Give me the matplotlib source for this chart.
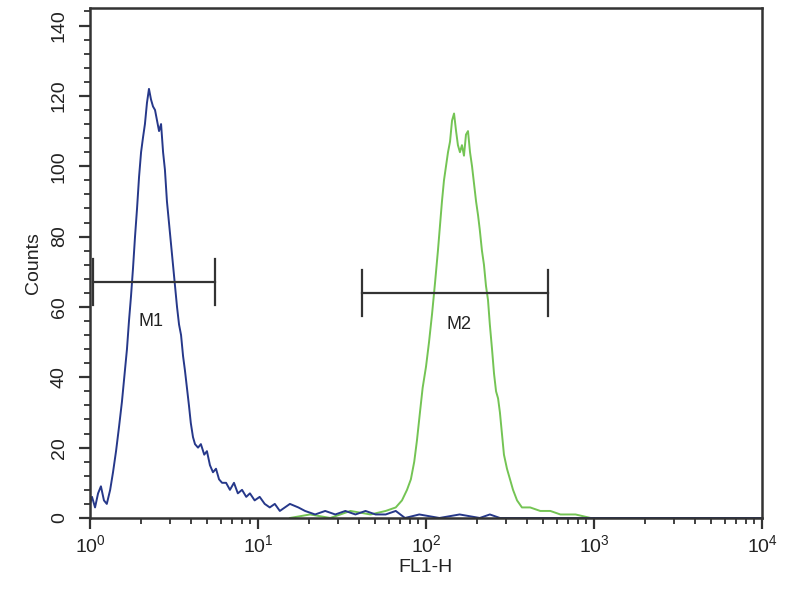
import matplotlib.pyplot as plt
from matplotlib.ticker import LogLocator, MultipleLocator

plt.rcParams['font.family'] = ['Liberation Sans', 'DejaVu Sans']
plt.rcParams['mathtext.default'] = 'regular'

# FL1-H positions given in decades (log10), counts per channel
blue_dec = [0.00, 0.012, 0.03, 0.048, 0.065, 0.083, 0.10, 0.12, 0.137, 0.155,
            0.173, 0.19, 0.208, 0.22, 0.232, 0.244, 0.256, 0.268, 0.28, 0.292,
            0.304, 0.315, 0.327, 0.339, 0.351, 0.363, 0.375, 0.387, 0.399, 0.411,
            0.423, 0.435, 0.446, 0.458, 0.47, 0.482, 0.494, 0.506, 0.518, 0.53,
            0.542, 0.554, 0.565, 0.577, 0.589, 0.60, 0.613, 0.625, 0.643, 0.66,
            0.68, 0.696, 0.714, 0.732, 0.75, 0.768, 0.786, 0.81, 0.833, 0.857,
            0.88, 0.905, 0.93, 0.952, 0.98, 1.01, 1.04, 1.07, 1.10, 1.13,
            1.16, 1.19, 1.24, 1.28, 1.34, 1.40, 1.46, 1.52, 1.58, 1.64,
            1.70, 1.76, 1.82, 1.875, 1.96, 2.08, 2.20, 2.32, 2.38, 2.44,
            2.62, 2.80, 3.04, 4.0]
blue_counts = [4, 6, 3, 7, 9, 5, 4, 8, 13, 19,
               26, 33, 42, 48, 56, 63, 71, 80, 88, 97,
               104, 108, 112, 118, 122, 119, 117, 116, 113, 110,
               112, 104, 99, 90, 84, 78, 72, 66, 60, 55,
               52, 46, 42, 37, 32, 27, 23, 21, 20, 21,
               18, 19, 15, 13, 14, 11, 10, 10, 8, 10,
               7, 8, 6, 7, 5, 6, 4, 3, 4, 2,
               3, 4, 3, 2, 1, 2, 1, 2, 1, 2,
               1, 1, 2, 0, 1, 0, 1, 0, 1, 0,
               0, 0, 0, 0]

green_dec = [1.19, 1.31, 1.43, 1.55, 1.67, 1.76, 1.82, 1.857, 1.887, 1.91,
             1.93, 1.946, 1.964, 1.98, 2.0, 2.018, 2.036, 2.054, 2.071, 2.083,
             2.095, 2.107, 2.119, 2.131, 2.143, 2.155, 2.167, 2.179, 2.19, 2.202,
             2.214, 2.226, 2.238, 2.25, 2.262, 2.274, 2.286, 2.298, 2.31, 2.32,
             2.333, 2.345, 2.357, 2.369, 2.38, 2.393, 2.405, 2.417, 2.429, 2.44,
             2.452, 2.464, 2.482, 2.5, 2.518, 2.542, 2.571, 2.62, 2.68, 2.74,
             2.80, 2.89, 2.98, 4.0]
green_counts = [0, 1, 0, 2, 1, 2, 3, 5, 8, 11,
                16, 22, 30, 37, 43, 50, 58, 67, 76, 83,
                90, 96, 100, 104, 107, 113, 115, 110, 106, 104,
                106, 103, 109, 110, 104, 100, 95, 90, 86, 82,
                76, 72, 66, 62, 55, 48, 41, 36, 34, 30,
                24, 18, 14, 11, 8, 5, 3, 3, 2, 2,
                1, 1, 0, 0]

# marker gates: (label, start, end, level, label position, label level)
markers = [('M1', 1.04, 5.55, 67, 2.3, 56),
           ('M2', 41.6, 532, 64, 158, 55)]

blue_x = [10 ** d for d in blue_dec]
green_x = [10 ** d for d in green_dec]

fig = plt.figure(figsize=(8, 6), dpi=100)
ax = fig.add_axes([0.1125, 0.1367, 0.84, 0.85])

ax.plot(green_x, green_counts, color='#74c454', lw=1.4)
ax.plot(blue_x, blue_counts, color='#26388a', lw=1.4)

for name, x0, x1, lvl, lx, ly in markers:
    ax.plot([x0, x1], [lvl, lvl], color='#333333', lw=1.6)
    ax.plot([x0, x0], [lvl - 6.5, lvl + 6.5], color='#333333', lw=1.6)
    ax.plot([x1, x1], [lvl - 6.5, lvl + 6.5], color='#333333', lw=1.6)
    ax.text(lx, ly, name, ha='center', va='center', fontsize=13, color='#222222')

ax.set_xscale('log')
ax.set_xlim(1, 10000)
ax.set_ylim(0, 145)
ax.yaxis.set_major_locator(MultipleLocator(20))
ax.yaxis.set_minor_locator(MultipleLocator(4))
ax.xaxis.set_major_locator(LogLocator(base=10, numticks=10))
ax.xaxis.set_minor_locator(LogLocator(base=10, subs=range(2, 10), numticks=100))

for s in ax.spines.values():
    s.set_color('#333333')
    s.set_linewidth(1.8)
ax.tick_params(axis='both', which='major', length=8, width=1.6, color='#333333',
               labelsize=14, labelcolor='#222222')
ax.tick_params(axis='y', which='major', pad=8)
ax.tick_params(axis='both', which='minor', length=4, width=1.3, color='#333333')
for lab in ax.get_yticklabels():
    lab.set_rotation(90)
    lab.set_va('center')

ax.set_xlabel('FL1-H', fontsize=14, color='#222222', labelpad=2)
ax.set_ylabel('Counts', fontsize=14, color='#222222', labelpad=6)

fig.savefig('out.png', dpi=100)
